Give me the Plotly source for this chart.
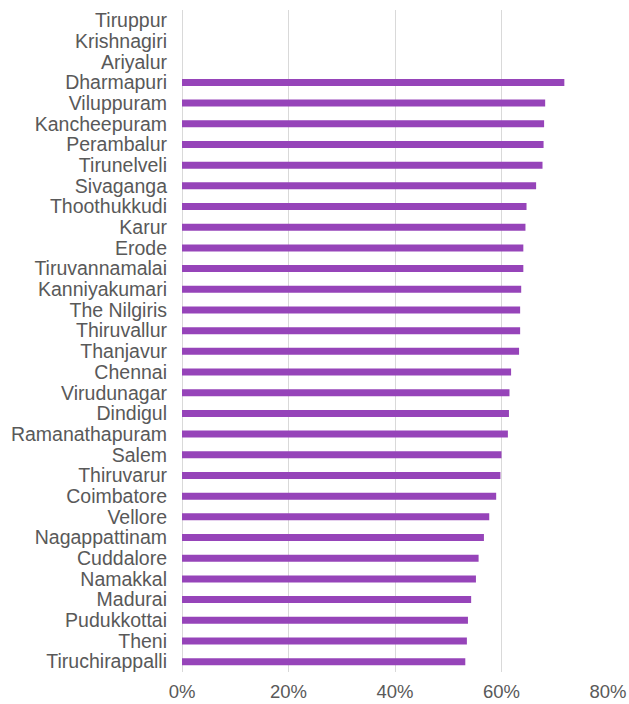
import plotly.graph_objects as go

# Districts listed top to bottom; the first three have no reported value
districts = [
    "Tiruppur", "Krishnagiri", "Ariyalur", "Dharmapuri", "Viluppuram",
    "Kancheepuram", "Perambalur", "Tirunelveli", "Sivaganga", "Thoothukkudi",
    "Karur", "Erode", "Tiruvannamalai", "Kanniyakumari", "The Nilgiris",
    "Thiruvallur", "Thanjavur", "Chennai", "Virudunagar", "Dindigul",
    "Ramanathapuram", "Salem", "Thiruvarur", "Coimbatore", "Vellore",
    "Nagappattinam", "Cuddalore", "Namakkal", "Madurai", "Pudukkottai",
    "Theni", "Tiruchirappalli",
]
share = [
    None, None, None, 0.718, 0.682,
    0.680, 0.679, 0.677, 0.665, 0.647,
    0.645, 0.641, 0.641, 0.637, 0.635,
    0.635, 0.633, 0.618, 0.615, 0.614,
    0.612, 0.600, 0.598, 0.590, 0.577,
    0.567, 0.557, 0.552, 0.543, 0.537,
    0.535, 0.532,
]
x_ticks = [0, 0.2, 0.4, 0.6, 0.8]
x_tick_labels = ["0%", "20%", "40%", "60%", "80%"]

BAR_COLOR = "#9644B9"
TEXT_COLOR = "#595959"
GRID_COLOR = "#D9D9D9"
FONT = "Liberation Sans, Arial, sans-serif"

fig = go.Figure(
    go.Bar(
        x=share,
        y=districts,
        orientation="h",
        marker=dict(color=BAR_COLOR, line=dict(width=0)),
        hovertemplate="%{y}: %{x:.1%}<extra></extra>",
    )
)

fig.update_layout(
    width=629,
    height=704,
    margin=dict(l=182, r=21, t=10, b=32),
    paper_bgcolor="white",
    plot_bgcolor="white",
    bargap=0.66,
    showlegend=False,
    font=dict(family=FONT, size=18.5, color=TEXT_COLOR),
)

fig.update_xaxes(
    range=[0, 0.8],
    tickmode="array",
    tickvals=x_ticks,
    ticktext=x_tick_labels,
    showgrid=True,
    gridcolor=GRID_COLOR,
    gridwidth=1.3,
    zeroline=True,
    zerolinecolor=GRID_COLOR,
    zerolinewidth=1.3,
    showline=False,
    ticks="",
    ticklabelstandoff=6,
    tickfont=dict(size=18.5, color=TEXT_COLOR),
    automargin=False,
    fixedrange=True,
)

fig.update_yaxes(
    categoryorder="array",
    categoryarray=districts,
    tickmode="array",
    tickvals=districts,
    autorange="reversed",
    showgrid=False,
    showline=False,
    ticks="",
    ticklabelstandoff=14,
    tickfont=dict(size=19.5, color=TEXT_COLOR),
    automargin=False,
    fixedrange=True,
)

fig.write_html("out.html")
